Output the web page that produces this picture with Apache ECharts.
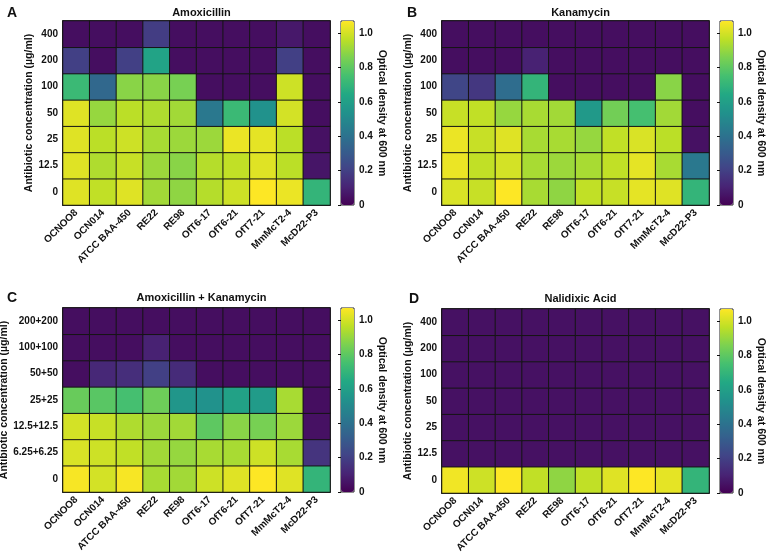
<!DOCTYPE html>
<html>
<head>
<meta charset="utf-8">
<script src="https://cdn.jsdelivr.net/npm/echarts@6/dist/echarts.min.js"></script>
<style>html,body{margin:0;padding:0;background:#fff}#c{width:770px;height:557px}</style>
</head>
<body>
<div id="c"></div>
<script>
// Strains (x categories)
const strains = ['OCNOO8','OCN014','ATCC BAA-450','RE22','RE98','OfT6-17','OfT6-21','OfT7-21','MmMcT2-4','McD22-P3'];
// Concentration levels (bottom to top)
const concSingle = ['0','12.5','25','50','100','200','400'];
const concCombo = ['0','6.25+6.25','12.5+12.5','25+25','50+50','100+100','200+200'];
const colorTicks = [0, 0.2, 0.4, 0.6, 0.8, 1.0];
const odMax = 1.07;

// Panel A: Amoxicillin (rows listed bottom to top, matching concSingle)
const amoxRows = [
  [1.02,0.97,1.02,0.92,0.89,0.95,0.99,1.07,1.04,0.70], // 0
  [1.02,0.94,0.98,0.91,0.88,0.95,0.97,1.02,0.96,0.06], // 12.5
  [1.02,0.96,0.99,0.93,0.91,0.91,1.04,1.03,0.96,0.05], // 25
  [1.02,0.90,0.96,0.94,0.92,0.43,0.72,0.54,1.00,0.04], // 50
  [0.72,0.36,0.88,0.88,0.85,0.04,0.04,0.04,0.99,0.04], // 100
  [0.20,0.04,0.20,0.62,0.04,0.04,0.04,0.04,0.20,0.04], // 200
  [0.04,0.04,0.04,0.19,0.04,0.04,0.04,0.04,0.07,0.04]  // 400
];
// Panel B: Kanamycin
const kanaRows = [
  [1.01,0.98,1.07,0.93,0.89,0.97,0.98,1.03,1.02,0.70],
  [1.04,0.97,1.00,0.93,0.91,0.93,0.97,1.03,0.93,0.43],
  [1.04,0.98,1.02,0.93,0.93,0.90,0.97,1.01,0.96,0.05],
  [0.98,0.97,0.90,0.93,0.92,0.57,0.84,0.75,0.92,0.04],
  [0.22,0.17,0.38,0.70,0.04,0.04,0.04,0.04,0.88,0.04],
  [0.04,0.04,0.04,0.10,0.04,0.04,0.04,0.04,0.04,0.04],
  [0.04,0.04,0.04,0.04,0.04,0.04,0.04,0.04,0.04,0.04]
];
// Panel C: Amoxicillin + Kanamycin
const comboRows = [
  [1.06,1.00,1.06,0.93,0.92,0.99,1.02,1.07,1.02,0.70],
  [1.01,0.99,0.97,0.92,0.90,0.93,0.93,0.99,0.93,0.16],
  [1.00,0.98,0.94,0.91,0.92,0.80,0.88,0.85,0.91,0.05],
  [0.82,0.79,0.75,0.83,0.56,0.54,0.61,0.58,0.93,0.04],
  [0.04,0.12,0.14,0.20,0.13,0.04,0.04,0.04,0.04,0.04],
  [0.04,0.04,0.04,0.10,0.04,0.04,0.04,0.04,0.04,0.04],
  [0.04,0.04,0.04,0.04,0.04,0.04,0.04,0.04,0.04,0.04]
];
// Panel D: Nalidixic Acid
const nalRows = [
  [1.05,0.99,1.07,0.97,0.89,0.97,1.02,1.07,1.03,0.70],
  [0.05,0.05,0.05,0.05,0.05,0.05,0.05,0.05,0.05,0.05],
  [0.05,0.05,0.05,0.05,0.05,0.05,0.05,0.05,0.05,0.05],
  [0.05,0.05,0.05,0.05,0.05,0.05,0.05,0.05,0.05,0.05],
  [0.05,0.05,0.05,0.05,0.05,0.05,0.05,0.05,0.05,0.05],
  [0.05,0.05,0.05,0.05,0.05,0.05,0.05,0.05,0.05,0.05],
  [0.05,0.05,0.05,0.05,0.05,0.05,0.05,0.05,0.05,0.05]
];

const viridis = ['#440154','#482475','#414487','#355f8d','#2a788e','#21918c','#22a884','#44bf70','#7ad151','#bddf26','#fde725'];
const FONT = 'Liberation Sans';

const panels = [
  {title:'Amoxicillin', letter:'A', rows:amoxRows, conc:concSingle, left:63, top:21, lx:2, ly:1, nameGap:23},
  {title:'Kanamycin', letter:'B', rows:kanaRows, conc:concSingle, left:442, top:21, lx:402, ly:1, nameGap:22},
  {title:'Amoxicillin + Kanamycin', letter:'C', rows:comboRows, conc:concCombo, left:63, top:308, lx:2, ly:286, nameGap:50},
  {title:'Nalidixic Acid', letter:'D', rows:nalRows, conc:concSingle, left:442, top:309, lx:404, ly:287, nameGap:25}
];
const GW = 267, GH = 184, CBW = 13, CBGAP = 278;

const grid = [], xAxis = [], yAxis = [], series = [], visualMap = [], title = [];
panels.forEach((p, i) => {
  grid.push({left:p.left, top:p.top, width:GW, height:GH, show:true, borderColor:'#111', borderWidth:1.5,
    backgroundColor:'transparent', containLabel:false, outerBoundsMode:'none'});
  xAxis.push({type:'category', gridIndex:i, data:strains,
    axisLine:{lineStyle:{color:'#111', width:1.5}},
    axisTick:{alignWithLabel:true, length:4, lineStyle:{color:'#111', width:1.2}},
    axisLabel:{rotate:45, fontFamily:FONT, fontWeight:'bold', fontSize:10, color:'#111', margin:6, interval:0},
    splitLine:{show:false}});
  yAxis.push({type:'category', gridIndex:i, data:p.conc,
    name:'Antibiotic concentration (µg/ml)', nameLocation:'middle', nameGap:p.nameGap,
    nameTextStyle:{fontFamily:FONT, fontWeight:'bold', fontSize:10.5, color:'#111'},
    axisLine:{lineStyle:{color:'#111', width:1.5}},
    axisTick:{alignWithLabel:true, length:4, lineStyle:{color:'#111', width:1.2}},
    axisLabel:{fontFamily:FONT, fontWeight:'bold', fontSize:10, color:'#111', margin:5, interval:0},
    splitLine:{show:false}});
  const data = [];
  p.rows.forEach((row, yi) => row.forEach((v, xi) => data.push([xi, yi, v])));
  series.push({type:'heatmap', xAxisIndex:i, yAxisIndex:i, data:data,
    itemStyle:{borderColor:'#151515', borderWidth:1}, emphasis:{disabled:true}, progressive:0});
  visualMap.push({type:'continuous', seriesIndex:i, min:0, max:odMax, calculable:false,
    orient:'vertical', left:p.left + CBGAP, top:p.top, itemWidth:CBW, itemHeight:GH, padding:0,
    text:null, showLabel:false, inRange:{color:viridis}});
  title.push({text:p.title, left:p.left + GW/2, top:p.ly + 1, textAlign:'center',
    textStyle:{fontFamily:FONT, fontWeight:'bold', fontSize:11, color:'#111'}});
  title.push({text:p.letter, left:p.lx, top:p.ly, textStyle:{fontFamily:FONT, fontWeight:'bold', fontSize:14, color:'#111'}});
});
// colorbar tick axes
panels.forEach((p, i) => {
  const gi = grid.length;
  grid.push({left:p.left + CBGAP, top:p.top, width:CBW, height:GH, show:true, borderColor:'#222', borderWidth:1,
    backgroundColor:'transparent', containLabel:false, outerBoundsMode:'none'});
  xAxis.push({type:'value', gridIndex:gi, show:false, min:0, max:1});
  yAxis.push({type:'value', gridIndex:gi, position:'right', min:0, max:odMax,
    name:'Optical density at 600 nm', nameLocation:'middle', nameRotate:-90, nameGap:22,
    nameTextStyle:{fontFamily:FONT, fontWeight:'bold', fontSize:10.5, color:'#111'},
    axisLine:{show:false},
    axisTick:{show:true, inside:true, length:3, customValues:colorTicks, lineStyle:{color:'#111'}},
    axisLabel:{customValues:colorTicks, fontFamily:FONT, fontWeight:'bold', fontSize:10, color:'#111', margin:5,
      formatter:v => v === 0 ? '0' : v.toFixed(1)},
    splitLine:{show:false}});
});

const chart = echarts.init(document.getElementById('c'), null, {renderer:'canvas'});
chart.setOption({animation:false, backgroundColor:'#fff', title, grid, xAxis, yAxis, visualMap, series});
</script>
</body>
</html>
